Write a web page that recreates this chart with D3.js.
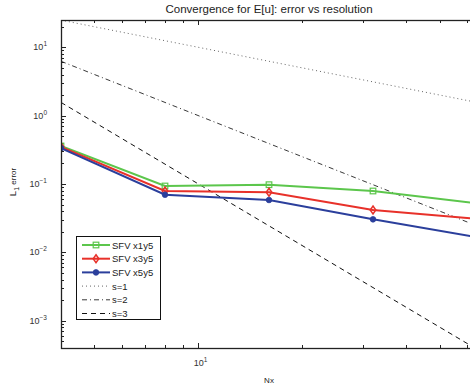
<!DOCTYPE html>
<html>
<head>
<meta charset="utf-8">
<script src="https://cdn.jsdelivr.net/npm/d3@7"></script>
<style>
  html, body { margin: 0; padding: 0; background: #fff; }
  svg { display: block; font-family: "Liberation Sans", Arial, sans-serif; }
</style>
</head>
<body>
<svg id="chart" width="470" height="390"></svg>
<script>
// Grid resolutions
const nx = [4, 8, 16, 32, 64];

// L1 error of E[u] for each scheme
const errX1y5 = [0.36, 0.0935, 0.0977, 0.079, 0.0523];
const errX3y5 = [0.35, 0.079, 0.0756, 0.0416, 0.0308];
const errX5y5 = [0.335, 0.0697, 0.0583, 0.0304, 0.0166];

// Reference slopes, endpoints at Nx = 4 and Nx = 64
const refNx = [4, 64];
const refS1 = [25, 1.5625];
const refS2 = [6.25, 0.0244];
const refS3 = [1.5625, 0.000381];

const series = [
  { name: "SFV x1y5", values: errX1y5, color: "#5cc64c", marker: "square" },
  { name: "SFV x3y5", values: errX3y5, color: "#e8312a", marker: "diamond" },
  { name: "SFV x5y5", values: errX5y5, color: "#2b3f9c", marker: "circle" }
];
const refs = [
  { name: "s=1", values: refS1, dash: "1,3", color: "#555", width: 0.9 },
  { name: "s=2", values: refS2, dash: "5,3,1,3", color: "#222", width: 0.9 },
  { name: "s=3", values: refS3, dash: "5,4", color: "#111", width: 1 }
];

const svg = d3.select("#chart");
const m = { left: 61, top: 20, right: 477, bottom: 348 };

const x = d3.scaleLog().domain([4, 64]).range([m.left, m.right]);
const y = d3.scaleLog().domain([Math.pow(10, -3.4), Math.pow(10, 1.4)]).range([m.bottom, m.top]);

svg.append("defs").append("clipPath").attr("id", "plotclip")
  .append("rect").attr("x", m.left).attr("y", m.top)
  .attr("width", m.right - m.left).attr("height", m.bottom - m.top);

// Ticks (inward, on all four sides)
const xMajor = [10];
const xMinor = [5, 6, 7, 8, 9, 20, 30, 40, 50, 60];
const yMajor = [1e-3, 1e-2, 1e-1, 1, 10];
const yMinor = [];
for (let e = -4; e <= 1; e++) {
  for (let k = 2; k <= 9; k++) {
    const v = k * Math.pow(10, e);
    if (v >= y.domain()[0] && v <= y.domain()[1]) yMinor.push(v);
  }
}

const tg = svg.append("g").attr("stroke", "#222").attr("stroke-width", 1);
function xTick(v, len) {
  const px = Math.round(x(v)) + 0.5;
  tg.append("line").attr("x1", px).attr("x2", px).attr("y1", m.bottom).attr("y2", m.bottom - len);
  tg.append("line").attr("x1", px).attr("x2", px).attr("y1", m.top).attr("y2", m.top + len);
}
function yTick(v, len) {
  const py = Math.round(y(v)) + 0.5;
  tg.append("line").attr("x1", m.left).attr("x2", m.left + len).attr("y1", py).attr("y2", py);
  tg.append("line").attr("x1", m.right).attr("x2", m.right - len).attr("y1", py).attr("y2", py);
}
xMajor.forEach(v => xTick(v, 5));
xMinor.forEach(v => xTick(v, 3));
yMajor.forEach(v => yTick(v, 5));
yMinor.forEach(v => yTick(v, 3));

// Tick labels as 10 with superscript exponent
function powLabel(g, px, py, exp, anchor) {
  const t = g.append("text").attr("x", px).attr("y", py)
    .attr("text-anchor", anchor).attr("font-size", 9).attr("fill", "#333");
  t.append("tspan").text("10");
  t.append("tspan").attr("dy", -4).attr("font-size", 6.5).text(exp);
}
const lg = svg.append("g");
yMajor.forEach(v => {
  const e = Math.round(Math.log10(v));
  powLabel(lg, 47, y(v) + 3, e < 0 ? "\u2212" + (-e) : String(e), "end");
});
xMajor.forEach(v => {
  powLabel(lg, x(v) + 2, 366, String(Math.round(Math.log10(v))), "middle");
});

// Data lines
const plot = svg.append("g").attr("clip-path", "url(#plotclip)");
const lineRef = d3.line().x((d, i) => x(refNx[i])).y(d => y(d));
refs.forEach(r => {
  plot.append("path").datum(r.values).attr("d", lineRef)
    .attr("fill", "none").attr("stroke", r.color)
    .attr("stroke-width", r.width).attr("stroke-dasharray", r.dash);
});

const line = d3.line().x((d, i) => x(nx[i])).y(d => y(d));
function drawMarker(g, kind, cx, cy, color) {
  if (kind === "square") {
    g.append("rect").attr("x", cx - 2.8).attr("y", cy - 2.8).attr("width", 5.6).attr("height", 5.6)
      .attr("fill", "none").attr("stroke", color).attr("stroke-width", 1.2);
  } else if (kind === "diamond") {
    g.append("path").attr("d", `M${cx},${cy - 4}L${cx + 2.8},${cy}L${cx},${cy + 4}L${cx - 2.8},${cy}Z`)
      .attr("fill", "none").attr("stroke", color).attr("stroke-width", 1.5);
    g.append("circle").attr("cx", cx).attr("cy", cy).attr("r", 0.8).attr("fill", color);
  } else {
    g.append("circle").attr("cx", cx).attr("cy", cy).attr("r", 2.8)
      .attr("fill", color).attr("stroke", color).attr("stroke-width", 0.8);
  }
}
series.forEach(s => {
  plot.append("path").datum(s.values).attr("d", line)
    .attr("fill", "none").attr("stroke", s.color).attr("stroke-width", 2);
  s.values.forEach((v, i) => drawMarker(plot, s.marker, x(nx[i]), y(v), s.color));
});

// Axes box
svg.append("rect").attr("x", m.left + 0.5).attr("y", m.top + 0.5)
  .attr("width", m.right - m.left).attr("height", m.bottom - m.top)
  .attr("fill", "none").attr("stroke", "#222").attr("stroke-width", 1.3);

// Title and axis labels
svg.append("text").attr("x", 269).attr("y", 13).attr("text-anchor", "middle")
  .attr("font-size", 11.5).attr("fill", "#222").text("Convergence for E[u]: error vs resolution");
svg.append("text").attr("x", 269).attr("y", 383).attr("text-anchor", "middle")
  .attr("font-size", 8).attr("fill", "#222").text("Nx");
const yl = svg.append("text").attr("transform", "translate(16,182) rotate(-90)")
  .attr("text-anchor", "middle").attr("font-size", 8).attr("fill", "#222");
yl.append("tspan").attr("font-size", 9.5).text("L");
yl.append("tspan").attr("dy", 3).attr("font-size", 7).text("1");
yl.append("tspan").attr("dy", -3).text(" error");

// Legend
const leg = svg.append("g");
leg.append("rect").attr("x", 76.5).attr("y", 236.5).attr("width", 84).attr("height", 83)
  .attr("fill", "#fff").attr("stroke", "#111").attr("stroke-width", 1);
const entries = series.map(s => ({ type: "s", s })).concat(refs.map(r => ({ type: "r", r })));
entries.forEach((e, i) => {
  const ly = 245 + i * 13.7;
  if (e.type === "s") {
    leg.append("line").attr("x1", 82).attr("x2", 110).attr("y1", ly).attr("y2", ly)
      .attr("stroke", e.s.color).attr("stroke-width", 2);
    drawMarker(leg, e.s.marker, 96, ly, e.s.color);
  } else {
    leg.append("line").attr("x1", 82).attr("x2", 110).attr("y1", ly).attr("y2", ly)
      .attr("stroke", e.r.color).attr("stroke-width", e.r.width).attr("stroke-dasharray", e.r.dash);
  }
  leg.append("text").attr("x", 112).attr("y", ly + 3.5).attr("font-size", 9.5)
    .attr("fill", "#222").text(e.type === "s" ? e.s.name : e.r.name);
});
</script>
</body>
</html>
